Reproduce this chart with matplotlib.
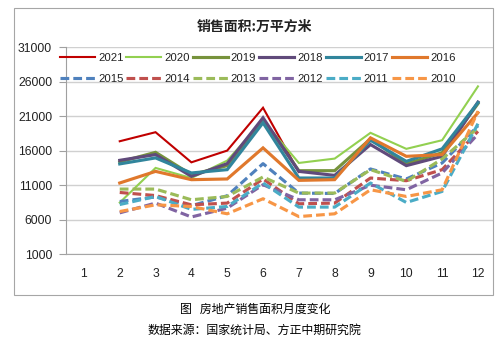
import numpy as np
import matplotlib
matplotlib.use('Agg')
import matplotlib.pyplot as plt
from matplotlib.patches import Rectangle

nan = np.nan
months = list(range(1, 13))
month_labels = [str(m) for m in months]
y_ticks = [1000, 6000, 11000, 16000, 21000, 26000, 31000]

y2021 = [nan, 17360, 18670, 14310, 16010, 22210, 12900, nan, nan, nan, nan, nan]
y2020 = [nan, 8480, 13500, 12040, 14560, 20370, 14220, 14850, 18580, 16260, 17510, 25300]
y2019 = [nan, 14370, 15760, 12520, 13830, 20510, 13100, 13100, 17710, 14100, 15700, 22800]
y2018 = [nan, 14600, 15430, 12280, 14120, 20760, 13000, 12420, 16880, 13830, 15180, 23030]
y2017 = [nan, 14080, 14950, 12770, 13250, 20030, 12040, 12040, 17500, 14450, 16260, 22940]
y2016 = [nan, 11320, 13000, 11800, 11900, 16400, 11700, 11800, 17850, 15180, 15430, 21490]
y2015 = [nan, 8640, 9300, 8040, 9470, 14120, 9860, 9800, 13350, 11900, 14220, 19600]
y2014 = [nan, 9950, 9500, 8160, 8410, 11900, 8310, 8410, 12040, 11650, 13250, 18800]
y2013 = [nan, 10440, 10440, 8890, 9370, 12190, 9860, 9860, 13250, 11550, 14800, 19300]
y2012 = [nan, 7000, 8410, 6400, 7680, 11070, 8890, 8890, 11000, 10340, 12770, 18400]
y2011 = [nan, 8200, 9370, 7500, 7920, 11320, 7830, 7830, 11320, 8500, 10100, 19900]
y2010 = [nan, 7190, 8160, 7920, 6860, 9040, 6460, 6860, 10340, 9370, 10340, 21700]

series = [
    ('2021', y2021, '#C00000', 'solid', 1.5),
    ('2020', y2020, '#92D050', 'solid', 1.5),
    ('2019', y2019, '#77933C', 'solid', 2.25),
    ('2018', y2018, '#604A7B', 'solid', 2.25),
    ('2017', y2017, '#31859C', 'solid', 2.25),
    ('2016', y2016, '#E0782C', 'solid', 2.25),
    ('2015', y2015, '#4F81BD', 'dash', 2.25),
    ('2014', y2014, '#C0504D', 'dash', 2.25),
    ('2013', y2013, '#9BBB59', 'dash', 2.25),
    ('2012', y2012, '#8064A2', 'dash', 2.25),
    ('2011', y2011, '#4BACC6', 'dash', 2.25),
    ('2010', y2010, '#F79646', 'dash', 2.25),
]

W, H = 500, 339
fig = plt.figure(figsize=(W / 100, H / 100), dpi=100)
fig.patch.set_facecolor('white')

# outer chart frame
fig.patches.append(Rectangle((14 / W, 1 - 295 / H), (493 - 14) / W, (295 - 8) / H,
                             transform=fig.transFigure, fill=False,
                             edgecolor='#a6a6a6', linewidth=0.8))

ax_l, ax_r, ax_t, ax_b = 66, 493, 47, 254.3
ax = fig.add_axes([ax_l / W, 1 - ax_b / H, (ax_r - ax_l) / W, (ax_b - ax_t) / H])

handles = {}
for name, vals, col, ls, lw in series:
    style = '-' if ls == 'solid' else (0, (2.8, 1.3))
    ln, = ax.plot(months, vals, color=col, linestyle=style, linewidth=lw,
                  label=name, solid_joinstyle='miter')
    handles[name] = ln

ax.set_xlim(0.5, 12.42)
ax.set_ylim(1000, 31000)
ax.set_yticks(y_ticks)
ax.set_yticklabels([str(v) for v in y_ticks])
ax.set_xticks(months)
ax.set_xticklabels(month_labels)
ax.grid(axis='y', color='#d0d0d0', linewidth=1.0)
ax.set_axisbelow(True)
for s in ['top', 'right']:
    ax.spines[s].set_visible(False)
ax.spines['left'].set_color('#a0a0a0')
ax.spines['bottom'].set_color('#a6a6a6')
ax.spines['left'].set_linewidth(0.8)
ax.spines['bottom'].set_linewidth(0.8)
ax.tick_params(axis='y', length=5, width=0.8, color='#a0a0a0', pad=5,
               labelsize=8.7, labelcolor='#222222')
ax.tick_params(axis='x', length=0, pad=10, labelsize=8.7, labelcolor='#222222')
for t in ax.get_xticklabels() + ax.get_yticklabels():
    t.set_fontfamily('Liberation Sans')

# legend: two rows of six (matplotlib fills column-wise)
order = ['2021', '2015', '2020', '2014', '2019', '2013', '2018', '2012',
         '2017', '2011', '2016', '2010']
leg = fig.legend([handles[k] for k in order], order, ncol=6, loc='upper left',
                 bbox_to_anchor=(60 / W, 1 - 53 / H), frameon=False,
                 prop={'family': 'Liberation Sans', 'size': 8.2},
                 handlelength=3.07, handletextpad=0.27, columnspacing=0.25,
                 labelspacing=0.98, borderpad=0, borderaxespad=0)
for t in leg.get_texts():
    t.set_color('#222222')

cjk = ['Noto Sans CJK SC', 'DejaVu Sans']
fig.text(254 / W, 1 - 27 / H, '销售面积:万平方米', ha='center', va='center',
         family=cjk, fontsize=10, fontweight='bold', color='#222222')
fig.text(255 / W, 1 - 309 / H, '图   房地产销售面积月度变化', ha='center', va='center',
         family=cjk, fontsize=8.6, color='#000000')
fig.text(254.5 / W, 1 - 330 / H, '数据来源：国家统计局、方正中期研究院', ha='center', va='center',
         family=cjk, fontsize=8.6, color='#000000')

fig.savefig('out.png', dpi=100)
